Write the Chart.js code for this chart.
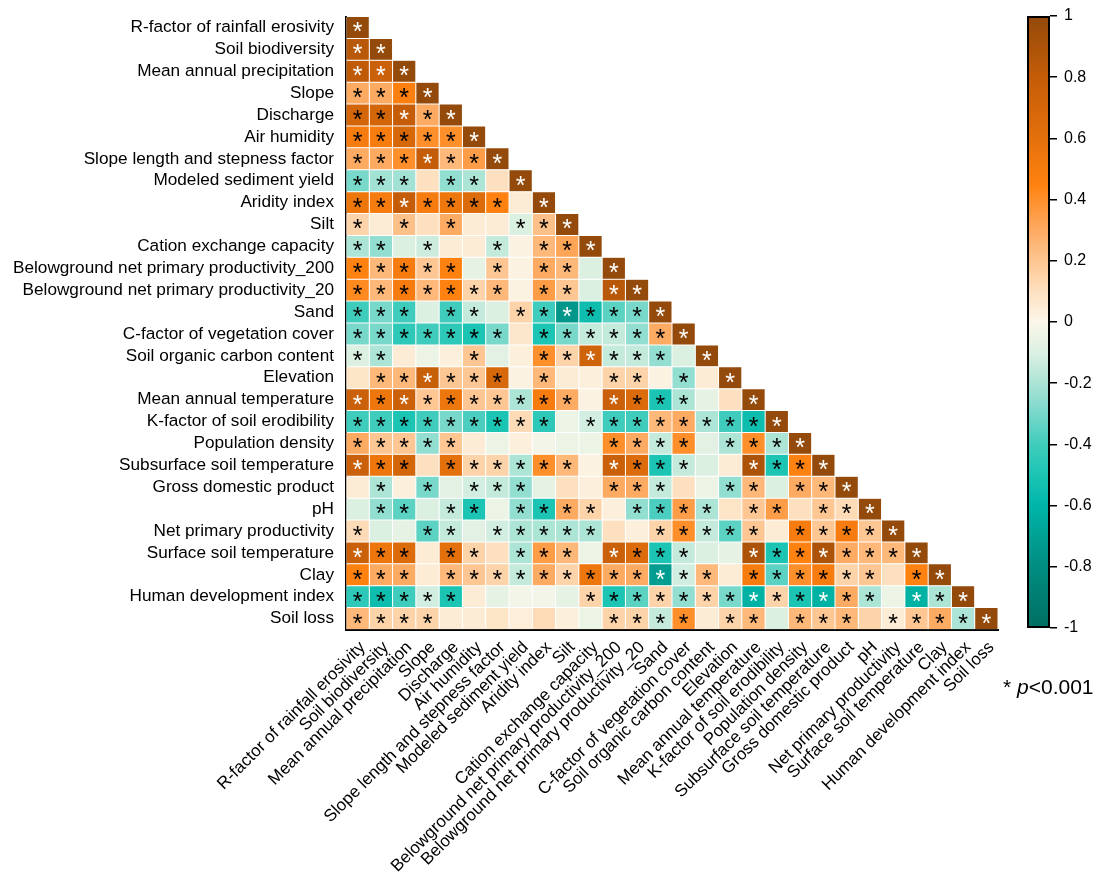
<!DOCTYPE html>
<html>
<head>
<meta charset="utf-8">
<script src="https://cdn.jsdelivr.net/npm/chart.js@4.4.1/dist/chart.umd.min.js"></script>
<style>
  html, body { margin: 0; padding: 0; background: #fff; }
  #wrap { position: relative; width: 1097px; height: 873px; }
  #heat { position: absolute; left: 0; top: 0; }
  #scale { position: absolute; left: 1020px; top: 0; }
  #note { position: absolute; left: 1003px; top: 675px; font: 21px "Liberation Sans", Arial, sans-serif; color: #000; white-space: nowrap; }
</style>
</head>
<body>
<div id="wrap">
  <canvas id="heat" width="1097" height="873"></canvas>
  <canvas id="scale" width="77" height="873"></canvas>
  <div id="note">* <i>p</i>&lt;0.001</div>
</div>
<script>
// Variables, in matrix order (rows top to bottom, columns left to right)
const variables = [
  'R-factor of rainfall erosivity',
  'Soil biodiversity',
  'Mean annual precipitation',
  'Slope',
  'Discharge',
  'Air humidity',
  'Slope length and stepness factor',
  'Modeled sediment yield',
  'Aridity index',
  'Silt',
  'Cation exchange capacity',
  'Belowground net primary productivity_200',
  'Belowground net primary productivity_20',
  'Sand',
  'C-factor of vegetation cover',
  'Soil organic carbon content',
  'Elevation',
  'Mean annual temperature',
  'K-factor of soil erodibility',
  'Population density',
  'Subsurface soil temperature',
  'Gross domestic product',
  'pH',
  'Net primary productivity',
  'Surface soil temperature',
  'Clay',
  'Human development index',
  'Soil loss'
];

// Lower triangle of the correlation matrix (row i holds columns 1..i)
const corr = [
  [1],
  [0.85, 1],
  [0.82, 0.76, 1],
  [0.3, 0.3, 0.47, 1],
  [0.7, 0.7, 0.8, 0.3, 1],
  [0.5, 0.5, 0.68, 0.4, 0.4, 1],
  [0.3, 0.3, 0.4, 0.8, 0.25, 0.35, 1],
  [-0.3, -0.22, -0.22, 0.1, -0.25, -0.2, 0.1, 1],
  [0.55, 0.5, 0.8, 0.5, 0.55, 0.65, 0.45, 0.05, 1],
  [0.15, 0.05, 0.22, 0.1, 0.3, 0.05, 0.05, -0.1, 0.22, 1],
  [-0.2, -0.25, -0.1, -0.13, 0.05, 0.05, -0.15, 0.02, 0.25, 0.32, 1],
  [0.45, 0.25, 0.5, 0.2, 0.45, -0.07, 0.2, 0.02, 0.3, 0.25, -0.1, 1],
  [0.42, 0.25, 0.5, 0.25, 0.45, 0.15, 0.25, 0.02, 0.35, 0.2, -0.1, 0.85, 1],
  [-0.4, -0.3, -0.4, -0.1, -0.4, -0.15, -0.1, 0.15, -0.4, -0.75, -0.55, -0.35, -0.3, 1],
  [-0.3, -0.3, -0.45, -0.4, -0.45, -0.5, -0.3, 0.07, -0.5, -0.3, -0.15, -0.15, -0.25, 0.3, 1],
  [-0.1, -0.2, 0.05, -0.05, 0.03, 0.2, -0.08, 0.03, 0.4, 0.15, 0.73, -0.15, -0.15, -0.25, -0.1, 1],
  [0.08, 0.25, 0.25, 0.78, 0.2, 0.2, 0.68, 0.02, 0.25, 0.05, 0.03, 0.15, 0.15, 0.02, -0.25, 0.05, 1],
  [0.76, 0.55, 0.76, 0.2, 0.55, 0.2, 0.2, -0.2, 0.5, 0.3, 0.02, 0.76, 0.65, -0.5, -0.2, -0.07, 0.1, 1],
  [-0.4, -0.4, -0.5, -0.4, -0.3, -0.38, -0.5, 0.12, -0.45, -0.05, -0.12, -0.4, -0.4, 0.25, 0.3, -0.2, -0.4, -0.55, 1],
  [0.3, 0.2, 0.2, -0.25, 0.2, 0.05, -0.05, 0.03, -0.03, -0.05, -0.05, 0.4, 0.3, -0.15, 0.4, -0.08, -0.2, 0.4, -0.2, 1],
  [0.76, 0.55, 0.7, 0.1, 0.6, 0.15, 0.15, -0.2, 0.4, 0.25, 0.02, 0.76, 0.65, -0.5, -0.15, -0.1, 0.05, 0.9, -0.5, 0.45, 1],
  [0.05, -0.2, 0.03, -0.3, -0.08, -0.12, -0.15, -0.25, -0.07, 0.1, 0.03, 0.3, 0.3, -0.15, 0.1, -0.05, -0.25, 0.25, -0.1, 0.3, 0.25, 1],
  [-0.1, -0.25, -0.35, -0.1, -0.15, -0.5, -0.05, -0.25, -0.5, 0.3, 0.15, 0.03, -0.25, -0.38, 0.35, -0.2, 0.08, 0.2, 0.35, 0.1, 0.2, 0.12, 1],
  [0.12, -0.1, -0.07, -0.35, -0.15, -0.08, -0.12, -0.2, -0.2, -0.2, -0.2, 0.1, 0.03, 0.15, 0.4, -0.15, -0.35, 0.2, 0.05, 0.5, 0.2, 0.5, 0.2, 1],
  [0.76, 0.55, 0.65, 0.05, 0.6, 0.15, 0.1, -0.2, 0.35, 0.25, -0.05, 0.76, 0.65, -0.5, -0.15, -0.1, -0.07, 0.9, -0.5, 0.45, 0.9, 0.3, 0.25, 0.25, 1],
  [0.45, 0.3, 0.3, 0.05, 0.25, 0.2, 0.15, -0.15, 0.3, 0.15, 0.55, 0.3, 0.3, -0.72, -0.12, 0.25, 0.05, 0.5, -0.35, 0.4, 0.5, 0.15, 0.2, 0.1, 0.45, 1],
  [-0.45, -0.55, -0.4, -0.12, -0.5, 0.05, -0.07, -0.03, -0.03, -0.07, 0.15, -0.5, -0.35, 0.15, -0.25, 0.15, -0.3, -0.62, 0.15, -0.5, -0.62, 0.3, -0.2, -0.05, -0.62, -0.2, 1],
  [0.25, 0.15, 0.15, 0.15, 0.05, 0.05, 0.08, 0.04, 0.12, 0.03, -0.05, 0.15, 0.15, -0.15, 0.4, 0.05, 0.15, 0.25, -0.1, 0.25, 0.2, 0.25, 0.15, 0.05, 0.2, 0.3, -0.2, 1]
];

// Significance (p < 0.001) per cell: '*' significant, '.' not
const signif = [
  '*',
  '**',
  '***',
  '****',
  '*****',
  '******',
  '*******',
  '***.**.*',
  '*******.*',
  '*.*.*..***',
  '**.*..*.***',
  '*****.*.**.*',
  '*******.**.**',
  '***.**.*******',
  '*******.*******',
  '**...*..******.*',
  '.******.*..**.*.*',
  '**********.****..*',
  '*********.*********',
  '*****......****.****',
  '***.******.****..****',
  '.*.*.***...***..**.***',
  '.**.**.****.****.**.***',
  '*..**.*****..*****.*****',
  '***.**.***.****..********',
  '***.************.******.**',
  '*****.....*************.***',
  '****.......****.**.***.*****'
];

// Colour bar tick values
const barTicks = [1, 0.8, 0.6, 0.4, 0.2, 0, -0.2, -0.4, -0.6, -0.8, -1];

// Diverging palette: teal (negative) -> cream (0) -> orange -> brown (positive)
const palette = [
  [-1.0, [0, 110, 98]],
  [-0.8, [0, 140, 128]],
  [-0.6, [0, 182, 168]],
  [-0.5, [28, 196, 180]],
  [-0.4, [64, 204, 188]],
  [-0.3, [120, 216, 202]],
  [-0.2, [172, 228, 214]],
  [-0.1, [220, 240, 226]],
  [0.0, [251, 247, 234]],
  [0.1, [253, 224, 192]],
  [0.2, [253, 198, 146]],
  [0.3, [253, 170, 98]],
  [0.45, [255, 130, 16]],
  [0.6, [228, 112, 12]],
  [0.8, [196, 92, 8]],
  [1.0, [147, 74, 10]]
];

function colourOf(v) {
  v = Math.max(-1, Math.min(1, v));
  for (let k = 1; k < palette.length; k++) {
    const [v1, c1] = palette[k];
    const [v0, c0] = palette[k - 1];
    if (v <= v1) {
      const t = (v - v0) / (v1 - v0);
      const c = c0.map((a, n) => Math.round(a + (c1[n] - a) * t));
      return `rgb(${c[0]},${c[1]},${c[2]})`;
    }
  }
  return 'rgb(147,74,10)';
}

const FONT = '"Liberation Sans", Arial, Helvetica, sans-serif';
const n = variables.length;

// One stacked horizontal dataset per column: each row gets a unit-wide cell
const datasets = variables.map((name, j) => ({
  label: name,
  data: variables.map((_, i) => (i >= j ? 1 : null)),
  backgroundColor: variables.map((_, i) => (i >= j ? colourOf(corr[i][j]) : 'rgba(0,0,0,0)')),
  borderColor: '#ffffff',
  borderWidth: 0.5,
  borderSkipped: false,
  inflateAmount: 0,
  barPercentage: 1,
  categoryPercentage: 1
}));

// Significance markers centred on each cell
const starPlugin = {
  id: 'stars',
  afterDatasetsDraw(chart) {
    const ctx = chart.ctx;
    ctx.save();
    ctx.font = `25px ${FONT}`;
    ctx.textAlign = 'center';
    ctx.textBaseline = 'alphabetic';
    const m = ctx.measureText('*');
    const dy = (m.actualBoundingBoxAscent - m.actualBoundingBoxDescent) / 2;
    chart.data.datasets.forEach((ds, j) => {
      const meta = chart.getDatasetMeta(j);
      meta.data.forEach((el, i) => {
        if (i < j || signif[i][j] !== '*') return;
        const v = corr[i][j];
        ctx.fillStyle = (v >= 0.72 || v <= -0.58) ? '#ffffff' : '#000000';
        ctx.fillText('*', (el.x + el.base) / 2, el.y + dy);
      });
    });
    ctx.restore();
  }
};

// Axes take exactly their fitted size, without extra edge padding
const noEdgePadding = s => { s.paddingTop = 0; s.paddingBottom = 0; s.paddingLeft = 0; s.paddingRight = 0; };

new Chart(document.getElementById('heat'), {
  type: 'bar',
  data: { labels: variables, datasets },
  options: {
    responsive: false,
    animation: false,
    devicePixelRatio: 1,
    indexAxis: 'y',
    layout: { padding: { top: 16.5, right: 99, bottom: 0, left: 0 } },
    plugins: { legend: { display: false }, tooltip: { enabled: false } },
    scales: {
      x: {
        type: 'linear',
        stacked: true,
        min: 0,
        max: n,
        position: 'bottom',
        grid: { display: false, drawTicks: false },
        border: { display: true, color: '#000', width: 2 },
        afterBuildTicks: s => { s.ticks = variables.map((_, k) => ({ value: k + 0.5 })); },
        afterFit: s => { s.height = 243.5; noEdgePadding(s); },
        ticks: {
          autoSkip: false,
          minRotation: 45,
          maxRotation: 45,
          padding: 8,
          labelOffset: 5,
          color: '#000',
          font: { family: FONT, size: 17 },
          callback: (v, i) => variables[i]
        }
      },
      y: {
        type: 'category',
        stacked: true,
        grid: { display: false, drawTicks: false },
        border: { display: true, color: '#000', width: 2 },
        afterFit: s => { s.width = 346; noEdgePadding(s); },
        ticks: {
          autoSkip: false,
          padding: 12,
          color: '#000',
          font: { family: FONT, size: 17.2 }
        }
      }
    }
  },
  plugins: [starPlugin]
});

// Colour bar with its own value axis
new Chart(document.getElementById('scale'), {
  type: 'bar',
  data: {
    labels: [''],
    datasets: [{
      data: [[-1, 1]],
      backgroundColor: c => {
        const chart = c.chart;
        if (!chart.chartArea) return null;
        const y = chart.scales.y;
        const g = chart.ctx.createLinearGradient(0, y.getPixelForValue(1), 0, y.getPixelForValue(-1));
        palette.forEach(([v, col]) => g.addColorStop((1 - v) / 2, `rgb(${col[0]},${col[1]},${col[2]})`));
        return g;
      },
      borderColor: '#000',
      borderWidth: 2,
      borderSkipped: false,
      inflateAmount: 0,
      barPercentage: 1,
      categoryPercentage: 1
    }]
  },
  options: {
    responsive: false,
    animation: false,
    devicePixelRatio: 1,
    layout: { padding: { left: 7, top: 16, bottom: 245, right: 0 } },
    plugins: { legend: { display: false }, tooltip: { enabled: false } },
    scales: {
      x: { display: false },
      y: {
        position: 'right',
        min: -1,
        max: 1,
        afterBuildTicks: s => { s.ticks = barTicks.map(v => ({ value: v })); },
        afterFit: s => { s.width = 47; noEdgePadding(s); },
        grid: { display: true, drawOnChartArea: false, drawTicks: true, tickLength: 7, color: '#000', lineWidth: 1.5 },
        border: { display: false },
        ticks: {
          padding: 7,
          color: '#000',
          font: { family: FONT, size: 16 },
          callback: v => String(Math.round(v * 10) / 10)
        }
      }
    }
  }
});
</script>
</body>
</html>
